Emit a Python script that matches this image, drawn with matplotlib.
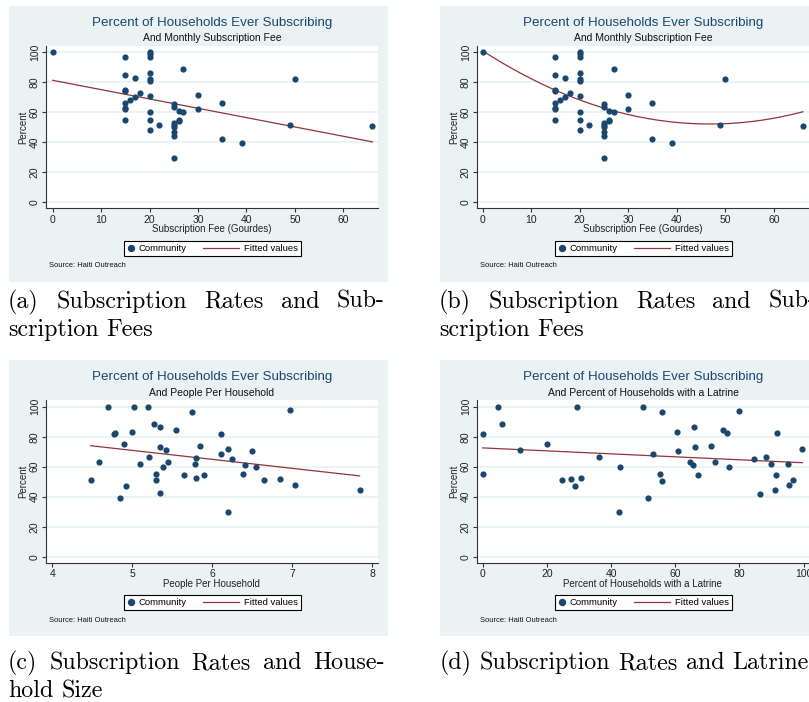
import numpy as np
import matplotlib
matplotlib.use('Agg')
import matplotlib.pyplot as plt
from matplotlib.lines import Line2D
from matplotlib.patches import Rectangle
from matplotlib.transforms import IdentityTransform
from matplotlib.legend_handler import HandlerLine2D

plt.rcParams['font.family'] = ['Liberation Sans', 'DejaVu Sans']

# Subscription fee (Gourdes) vs percent ever subscribing -- panels (a) and (b)
fee = [0, 15, 15, 15, 15, 15, 15, 15, 15, 16, 17, 17, 18,
       20, 20, 20, 20, 20, 20, 20, 20, 20, 20, 22,
       25, 25, 25, 25, 25, 25, 25, 25, 26, 26, 26, 27, 27,
       30, 30, 35, 35, 39, 49, 50, 66]
pct_fee = [100, 97, 85, 75, 74, 66, 63, 62, 55, 68, 83, 70, 73,
           100, 99, 97, 86, 82, 81, 71, 60, 55, 48, 51.5,
           65.3, 63.5, 52.7, 51.3, 50, 47.1, 44.4, 29.6, 61, 55, 54, 89, 60,
           71.5, 62, 66.5, 42, 39.3, 51.5, 82.5, 51]

# People per household -- panel (c)
hh_size = [4.48, 4.58, 4.69, 4.77, 4.78, 4.89, 4.85, 4.92, 4.99, 5.02, 5.09,
           5.20, 5.21, 5.27, 5.29, 5.30, 5.35, 5.35, 5.35, 5.38, 5.42, 5.45,
           5.55, 5.64, 5.75, 5.78, 5.80, 5.80, 5.84, 5.89, 6.11, 6.11, 6.20,
           6.19, 6.24, 6.38, 6.41, 6.50, 6.54, 6.64, 6.85, 6.97, 7.03, 7.84]
pct_hh = [51.1, 62.9, 99.8, 81.8, 82.2, 74.9, 39.3, 47.3, 83.1, 99.8, 62,
          99.8, 66.4, 88.7, 55.1, 51.3, 86.2, 72.9, 42.2, 59.8, 71.1, 62.9,
          84.7, 54.7, 96.7, 61.6, 66, 52.7, 73.8, 54.2, 82, 68.2, 71.6,
          29.8, 65.1, 55.1, 60.9, 70.2, 59.8, 51.1, 51.6, 97.6, 48, 44.7]

# Percent of households with a latrine -- panel (d)
latrine = [0, 0, 4.9, 6.1, 11.5, 19.9, 24.7, 27.5, 28.9, 29.3, 30.5, 36.3,
           42.4, 42.7, 49.8, 51.4, 53.1, 55.1, 55.7, 56.0, 60.5, 60.8, 64.6,
           65.6, 65.9, 66.0, 67.1, 71.0, 72.4, 75.0, 76.1, 76.8, 79.7, 84.6,
           86.3, 88.3, 89.8, 91.5, 91.1, 91.6, 95.2, 95.5, 96.6, 99.6]
pct_lat = [81.8, 55.1, 99.8, 88.7, 70.9, 74.9, 51.1, 51.6, 47.3, 99.8, 52.7, 66.4,
           29.8, 60, 99.8, 39.3, 68.2, 55.1, 50.7, 96.7, 83.1, 70.2, 63.1,
           60.9, 86.2, 72.9, 54.2, 73.8, 63.1, 84.7, 82.2, 59.6, 97.3, 65.1,
           42, 66.2, 61.6, 54.7, 44.7, 82.2, 62, 47.8, 51.3, 71.6]

title = 'Percent of Households Ever Subscribing'
yticks = [0, 20, 40, 60, 80, 100]

NAVY = '#1A476F'
MAROON = '#90353B'
BG = '#EAF2F3'
W, H = 809, 702

fig = plt.figure(figsize=(W / 100, H / 100), dpi=100)


def fx(x):
    return x / W


def fy(y):
    return 1 - y / H


class ShortMarker(HandlerLine2D):
    # narrow handle box so the dot sits right next to its label (Stata style)
    def legend_artist(self, legend, orig_handle, fontsize, handlebox):
        handlebox.width = 0.8 * fontsize
        return super().legend_artist(legend, orig_handle, fontsize, handlebox)


def panel(ox, oy, x, y, deg, xlim, xticks, xlabel, subtitle):
    fig.add_artist(Rectangle((fx(9.3 + ox), fy(281.7 + oy)), 378.4 / W, 275.7 / H,
                             transform=fig.transFigure, facecolor=BG,
                             edgecolor='none', zorder=-5))
    ax = fig.add_axes([fx(45.7 + ox), fy(208.3 + oy), 332 / W, 162.3 / H])
    ax.set_facecolor('white')
    ax.scatter(x, y, s=20, color=NAVY, linewidths=0, zorder=3)

    # fitted values (linear or quadratic)
    coef = np.polyfit(x, y, deg)
    xs = np.linspace(min(x), max(x), 200)
    ax.plot(xs, np.polyval(coef, xs), color=MAROON, lw=0.9, zorder=2)

    ax.set_xlim(xlim)
    ax.set_ylim(-4, 104.2)
    ax.set_xticks(xticks)
    ax.set_yticks(yticks)
    ax.set_axisbelow(True)
    ax.yaxis.grid(True, color=BG, linewidth=1.3)
    for s in ['top', 'right']:
        ax.spines[s].set_visible(False)
    for s in ['left', 'bottom']:
        ax.spines[s].set_color('#333333')
        ax.spines[s].set_linewidth(0.8)
    ax.tick_params(direction='out', length=3, width=0.8, color='#333333',
                   labelsize=7.5, labelcolor='#222222')
    ax.tick_params(axis='x', pad=1.8)
    ax.tick_params(axis='y', pad=1.2, labelrotation=90)
    plt.setp(ax.get_yticklabels(), va='center')

    ax.set_xlabel(xlabel, fontsize=7, color='#222222')
    ax.xaxis.set_label_coords(0.5, (208.3 - 229.3) / 162.3)
    ax.xaxis.label.set_va('center')
    ax.set_ylabel('Percent', fontsize=7, color='#222222')
    ax.yaxis.set_label_coords((23.5 - 45.7) / 332, 0.5)
    ax.yaxis.label.set_va('center')

    fig.text(fx(212 + ox), fy(22.7 + oy), title, fontsize=9.6, color=NAVY,
             ha='center', va='center')
    fig.text(fx(212 + ox), fy(38.3 + oy), subtitle, fontsize=7.5, color='#111111',
             ha='center', va='center')
    fig.text(fx(49.3 + ox), fy(265.7 + oy), 'Source: Haiti Outreach', fontsize=5.4,
             color='#111111', ha='left', va='center')

    dot = Line2D([], [], marker='o', ls='none', color=NAVY, markersize=4.3)
    fit = Line2D([], [], color=MAROON, lw=0.9)
    leg = ax.legend([dot, fit], ['Community', 'Fitted values'], loc='center',
                    bbox_to_anchor=(fx(212.2 + ox), fy(248.5 + oy)),
                    bbox_transform=fig.transFigure, ncol=2, fontsize=6.8,
                    frameon=True, fancybox=False, framealpha=1, edgecolor='black',
                    borderpad=0.32, handlelength=3.9, handletextpad=0.45,
                    columnspacing=1.7, handler_map={dot: ShortMarker()})
    leg.get_frame().set_linewidth(0.8)
    return ax


panel(0, 0, fee, pct_fee, 1, (-1.45, 67.1), [0, 10, 20, 30, 40, 50, 60],
      'Subscription Fee (Gourdes)', 'And Monthly Subscription Fee')
panel(431, 0, fee, pct_fee, 2, (-1.24, 67.2), [0, 10, 20, 30, 40, 50, 60],
      'Subscription Fee (Gourdes)', 'And Monthly Subscription Fee')
panel(0, 354.4, hh_size, pct_hh, 1, (3.917, 8.067), [4, 5, 6, 7, 8],
      'People Per Household', 'And People Per Household')
panel(431, 354.4, latrine, pct_lat, 1, (-1.875, 101.56), [0, 20, 40, 60, 80, 100],
      'Percent of Households with a Latrine', 'And Percent of Households with a Latrine')

# sub-figure captions in Computer Modern
CAP = 17.3
renderer = fig.canvas.get_renderer()


def caption(words, x0, y, x1=None):
    ts = [fig.text(0, 0, w, fontsize=CAP, family='cmr10', color='black',
                   transform=IdentityTransform(), va='baseline') for w in words]
    ws = [t.get_window_extent(renderer).width for t in ts]
    if x1 is None:
        gap = 0.333 * CAP * 100 / 72
    else:
        gap = (x1 - x0 - sum(ws)) / (len(ws) - 1)
    xp = x0
    for t, w in zip(ts, ws):
        t.set_position((xp, H - y))
        xp += w + gap


caption(['(a)', 'Subscription', 'Rates', 'and', 'Sub-'], 8, 308, 385)
caption(['scription', 'Fees'], 8, 336)
caption(['(b)', 'Subscription', 'Rates', 'and', 'Sub-'], 439, 308, 816)
caption(['scription', 'Fees'], 439, 336)
caption(['(c)', 'Subscription', 'Rates', 'and', 'House-'], 8, 669, 385)
caption(['hold', 'Size'], 8, 697)
caption(['(d)', 'Subscription', 'Rates', 'and', 'Latrine'], 440, 669)

fig.savefig('out.png', dpi=100)
